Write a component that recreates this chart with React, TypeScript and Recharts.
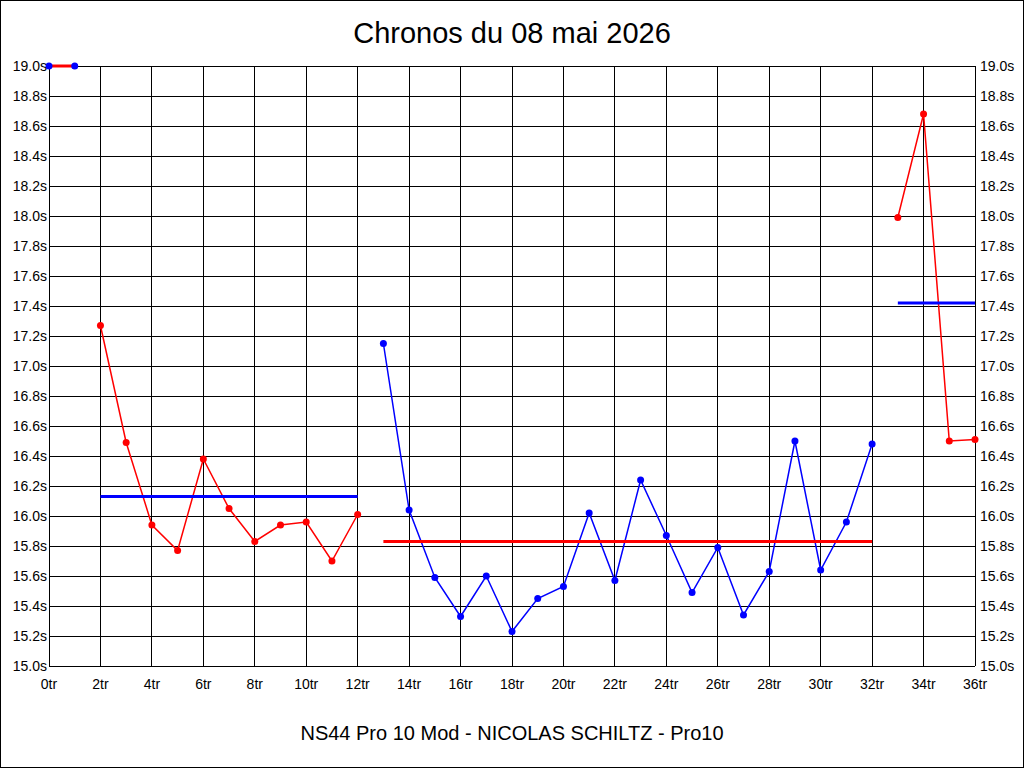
import { LineChart, Line, XAxis, YAxis, CartesianGrid, ReferenceLine } from 'recharts';

// lap time in seconds, one value per lap (0tr .. 36tr)
const chronos = [
  19.0, 19.0,
  17.27, 16.49, 15.94, 15.77, 16.38, 16.05, 15.83, 15.94, 15.96, 15.7, 16.01,
  17.15, 16.04, 15.59, 15.33, 15.6, 15.23, 15.45, 15.53, 16.02, 15.57, 16.24,
  15.87, 15.49, 15.79, 15.34, 15.63, 16.5, 15.64, 15.96, 16.48,
  17.99, 18.68, 16.5, 16.51,
];

// runs of laps (first lap, last lap) and the average of each run
const runStart = [0, 2, 13, 33];
const runEnd = [1, 12, 32, 36];
const runAverage = [19.0, 16.13, 15.83, 17.42];

const xTicks = [0, 2, 4, 6, 8, 10, 12, 14, 16, 18, 20, 22, 24, 26, 28, 30, 32, 34, 36];
const yTicks = [15.0, 15.2, 15.4, 15.6, 15.8, 16.0, 16.2, 16.4, 16.6, 16.8, 17.0, 17.2, 17.4, 17.6, 17.8, 18.0, 18.2, 18.4, 18.6, 18.8, 19.0];

const title = 'Chronos du 08 mai 2026';
const subtitle = 'NS44 Pro 10 Mod - NICOLAS SCHILTZ - Pro10';

const RED = '#ff0000';
const BLUE = '#0000ff';
const FONT = '"Liberation Sans", Arial, sans-serif';

// each run gets its own column so the lines break between runs
const data = chronos.map((t, lap) => {
  const row: Record<string, number | null> = { lap };
  runStart.forEach((s, k) => {
    row['run' + k] = lap >= s && lap <= runEnd[k] ? t : null;
  });
  return row;
});

const tickStyle = { fontSize: 14, fill: '#000', fontFamily: FONT };

export default function App() {
  return (
    <div style={{ position: 'absolute', left: 0, top: 0, width: 1024, height: 768, background: '#fff' }}>
      <LineChart width={1024} height={768} data={data} margin={{ top: 66, right: 0, bottom: 72, left: 0 }}>
        <CartesianGrid yAxisId="left" stroke="#000" strokeWidth={1} shapeRendering="crispEdges" />
        <XAxis
          dataKey="lap"
          type="number"
          domain={[0, 36]}
          ticks={xTicks}
          height={30}
          axisLine={false}
          tickLine={false}
          tickSize={0}
          tickMargin={13}
          tick={tickStyle}
          tickFormatter={(v) => `${v}tr`}
        />
        <YAxis
          yAxisId="left"
          domain={[15, 19]}
          ticks={yTicks}
          width={49}
          axisLine={false}
          tickLine={false}
          tickSize={0}
          tickMargin={2}
          tick={tickStyle}
          allowDataOverflow
          tickFormatter={(v) => `${Number(v).toFixed(1)}s`}
        />
        <YAxis
          yAxisId="right"
          orientation="right"
          domain={[15, 19]}
          ticks={yTicks}
          width={49}
          axisLine={false}
          tickLine={false}
          tickSize={0}
          tickMargin={5}
          tick={{ ...tickStyle, textAnchor: 'start' }}
          allowDataOverflow
          tickFormatter={(v) => `${Number(v).toFixed(1)}s`}
        />
        {runStart.map((s, k) => {
          const color = k % 2 === 0 ? BLUE : RED;
          return (
            <Line
              key={'run' + k}
              yAxisId="left"
              dataKey={'run' + k}
              stroke={color}
              strokeWidth={1.5}
              dot={false}
              isAnimationActive={false}
            />
          );
        })}
        {runStart.map((s, k) => (
          <ReferenceLine
            key={'avg' + k}
            yAxisId="left"
            segment={[
              { x: s, y: runAverage[k] },
              { x: runEnd[k], y: runAverage[k] },
            ]}
            stroke={k % 2 === 0 ? RED : BLUE}
            strokeWidth={3}
            ifOverflow="visible"
          />
        ))}
        {runStart.map((s, k) => (
          <Line
            key={'dots' + k}
            yAxisId="left"
            dataKey={'run' + k}
            stroke="none"
            dot={{ r: 3.5, fill: k % 2 === 0 ? BLUE : RED, stroke: 'none', clipDot: false }}
            isAnimationActive={false}
          />
        ))}
      </LineChart>
      <svg width={1024} height={768} style={{ position: 'absolute', left: 0, top: 0, pointerEvents: 'none' }}>
        <rect x={0.5} y={0.5} width={1023} height={767} fill="none" stroke="#000" strokeWidth={1} />
        <text x={512} y={43} textAnchor="middle" fontSize={29} fontFamily={FONT} fill="#000">
          {title}
        </text>
        <text x={512} y={740} textAnchor="middle" fontSize={20} fontFamily={FONT} fill="#000">
          {subtitle}
        </text>
      </svg>
    </div>
  );
}
